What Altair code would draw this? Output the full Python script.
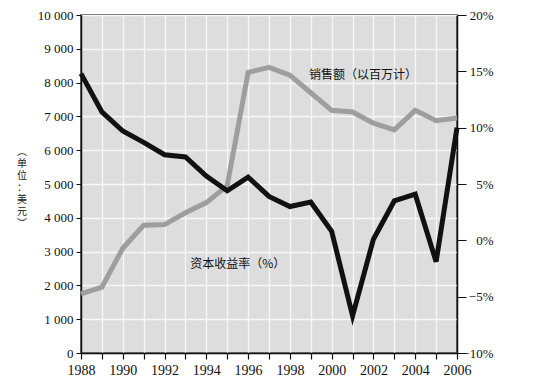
import altair as alt
import pandas as pd

years = list(range(1988, 2007))
sales = [1750, 1950, 3100, 3780, 3800, 4150, 4450, 4950, 8300, 8450, 8220, 7700,
         7180, 7130, 6800, 6600, 7180, 6870, 6950]
roi = [14.8, 11.4, 9.7, 8.7, 7.6, 7.4, 5.7, 4.4, 5.6, 3.9, 3.0, 3.4,
       0.8, -6.7, 0.1, 3.5, 4.1, -1.9, 10.0]

sales_label = "销售额（以百万计）"
roi_label = "资本收益率（%）"
y_title = ["︵", "单", "位", "：", "美", "元", "︶"]

df = pd.DataFrame({"year": years, "sales": sales, "roi": roi})
ann = pd.DataFrame({
    "year": [2001.5, 1995.5],
    "sales": [8230, 2620],
    "label": [sales_label, roi_label],
})

SERIF = "Liberation Serif"
CJK = "Noto Sans CJK SC"
GRID = "#f7f7f7"

x_enc = alt.X(
    "year:Q",
    scale=alt.Scale(domain=[1988, 2006], nice=False, zero=False),
    axis=alt.Axis(
        values=years, title=None, format="d",
        labelExpr="datum.value % 2 == 0 ? datum.value : ''",
        labelFont=SERIF, labelFontSize=14, labelColor="#111",
        labelPadding=4, tickSize=6, tickColor="#111", domainColor="#111",
        domainWidth=1.5, tickWidth=1.2, grid=True, gridColor=GRID,
        gridOpacity=1, gridWidth=1.3, labelFlush=False, labelOverlap=False,
    ),
)

y_left = alt.Y(
    "sales:Q", scale=alt.Scale(domain=[0, 10000], nice=False),
    axis=alt.Axis(
        values=list(range(0, 10001, 1000)), labelOverlap=False,
        labelExpr="replace(format(datum.value, ','), ',', ' ')",
        labelFont=SERIF, labelFontSize=13, labelColor="#111",
        labelPadding=3, tickSize=5, tickColor="#111", domainColor="#111",
        domainWidth=1.5, grid=True, gridColor=GRID, gridOpacity=1,
        gridWidth=1.3, title=None,
    ),
)

sales_line = alt.Chart(df).mark_line(color="#9e9e9e", strokeWidth=5).encode(
    x=x_enc, y=y_left,
)

ann_text = alt.Chart(ann).mark_text(font=CJK, fontSize=12, color="#111").encode(
    x=x_enc, y=y_left, text="label:N",
)

roi_line = alt.Chart(df).mark_line(color="#111111", strokeWidth=5).encode(
    x=x_enc,
    y=alt.Y(
        "roi:Q", scale=alt.Scale(domain=[-10, 20], nice=False),
        axis=alt.Axis(
            orient="right", values=[-10, -5, 0, 5, 10, 15, 20],
            labelExpr="(datum.value < 0 ? '−' + (-datum.value) : datum.value) + '%'",
            labelFont=SERIF, labelFontSize=13, labelColor="#111",
            labelAlign="right", labelPadding=27, tickSize=9, tickColor="#111",
            domainColor="#111", domainWidth=1.5, grid=False, title=None,
            labelOverlap=False,
        ),
    ),
)

title_mark = alt.Chart(pd.DataFrame({"k": [0]})).mark_text(
    text=y_title, font=CJK, fontSize=10, lineHeight=12, color="#222",
    align="center", baseline="top",
).encode(x=alt.value(-59), y=alt.value(132))

left_layer = alt.layer(sales_line, ann_text)

chart = alt.layer(left_layer, roi_line, title_mark).resolve_scale(
    y="independent"
).properties(
    width=376, height=338,
    autosize=alt.AutoSizeParams(type="none"),
    padding={"left": 73, "top": 7, "right": 60, "bottom": 30},
    background="white",
).configure_view(
    fill="#dddddd", stroke="#222", strokeWidth=1.5,
)

chart.save("out.html", embed_options={"renderer": "svg", "actions": False})
